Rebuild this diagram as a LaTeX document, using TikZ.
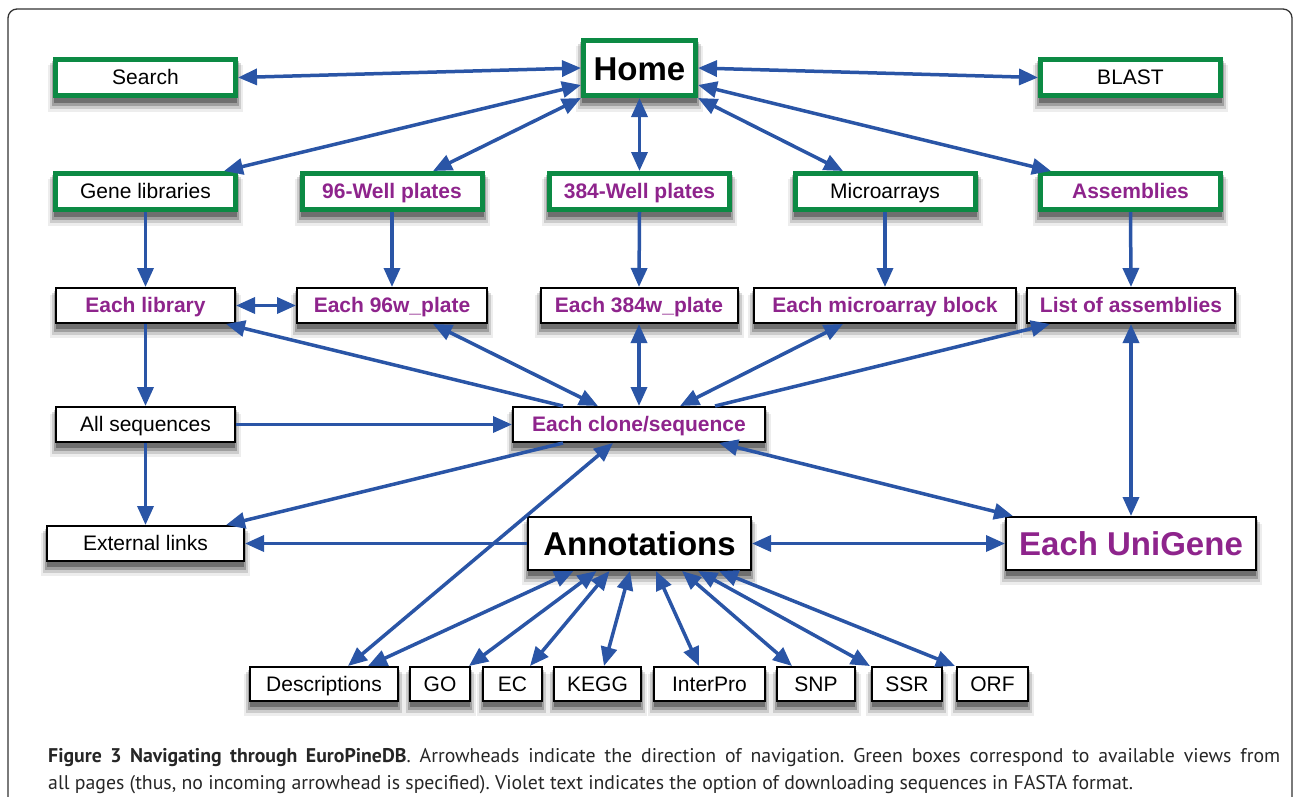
\documentclass[tikz,border=0pt]{standalone}
\usepackage{fontspec}
\setmainfont{Liberation Sans}
\newfontfamily\capfont{PT Sans}
\usetikzlibrary{arrows.meta,calc}
\definecolor{boxgreen}{RGB}{12,138,68}
\definecolor{fastaviolet}{RGB}{142,36,140}
\definecolor{arrowblue}{RGB}{42,85,166}
\frenchspacing
\pgfdeclarelayer{shadowlayer}
\pgfsetlayers{shadowlayer,main}
\tikzset{
  txt/.style={font=\fontsize{21}{25}\selectfont, text height=17pt, text depth=3pt},
  fasta/.style={font=\fontsize{21}{25}\selectfont\bfseries, text=fastaviolet, text height=17pt, text depth=3pt},
  big/.style={font=\fontsize{33}{38}\selectfont\bfseries, text height=27pt, text depth=3pt},
  gbox/.style={draw=boxgreen, line width=5pt, fill=white, minimum width=180pt, minimum height=36pt, inner sep=0pt},
  bbox/.style={draw=black, line width=2pt, fill=white, minimum height=35pt, inner sep=0pt},
  sbox/.style={bbox, minimum height=34pt},
  shadowfill/.style={fill=black, opacity=#1},
  link/.style={draw=arrowblue, line width=3.5pt, -{Triangle[length=19pt,width=16pt]}},
  both/.style={draw=arrowblue, line width=3.5pt, {Triangle[length=19pt,width=16pt]}-{Triangle[length=19pt,width=16pt]}}
}
\begin{document}
\begin{tikzpicture}[x=1pt,y=-1pt]
\useasboundingbox (0,0) rectangle (1293,796);
\draw[line width=1.3pt, black!80, rounded corners=9pt] (8,840) -- (8,9) -- (1292,9) -- (1292,840);

% green boxes
\node[gbox, txt] (search) at (145.5,77.5) {Search};
\node[gbox, big, minimum width=112pt, minimum height=55pt] (home) at (639.5,68) {Home};
\node[gbox, txt] (blast) at (1130.5,77.5) {BLAST};
\node[gbox, txt] (genelib) at (145.5,191.5) {Gene libraries};
\node[gbox, fasta] (w96) at (392,191.5) {96-Well plates};
\node[gbox, fasta] (w384) at (639.5,191.5) {384-Well plates};
\node[gbox, txt] (micro) at (885,191.5) {Microarrays};
\node[gbox, fasta] (assem) at (1130.5,191.5) {Assemblies};

% row 3
\node[bbox, fasta, minimum width=179pt] (lib) at (145.5,305.5) {Each library};
\node[bbox, fasta, minimum width=190pt] (e96) at (392,305.5) {Each 96w\_plate};
\node[bbox, fasta, minimum width=197pt] (e384) at (639,305.5) {Each 384w\_plate};
\node[bbox, fasta, minimum width=262pt] (block) at (885,305.5) {Each microarray block};
\node[bbox, fasta, minimum width=208pt] (list) at (1131,305.5) {List of assemblies};

% row 4
\node[bbox, txt, minimum width=179pt] (allseq) at (145.5,424.5) {All sequences};
\node[bbox, fasta, minimum width=252pt] (clone) at (639,424.5) {Each clone/sequence};

% row 5
\node[bbox, txt, minimum width=197pt] (ext) at (145.5,543.5) {External links};
\node[bbox, big, minimum width=223pt, minimum height=53pt] (annot) at (639.5,543.5) {Annotations};
\node[bbox, big, text=fastaviolet, minimum width=250pt, minimum height=53pt] (unigene) at (1131,543.5) {Each UniGene};

% bottom row
\node[sbox, txt, minimum width=148pt] (desc) at (324,684) {Descriptions};
\node[sbox, txt, minimum width=60pt] (go) at (440,684) {GO};
\node[sbox, txt, minimum width=59pt] (ec) at (512.5,684) {EC};
\node[sbox, txt, minimum width=87pt] (kegg) at (597.5,684) {KEGG};
\node[sbox, txt, minimum width=111pt] (interpro) at (709.5,684) {InterPro};
\node[sbox, txt, minimum width=78pt] (snp) at (816,684) {SNP};
\node[sbox, txt, minimum width=70pt] (ssr) at (907,684) {SSR};
\node[sbox, txt, minimum width=71pt] (orf) at (992.5,684) {ORF};

% soft shadows below every box
\begin{pgfonlayer}{shadowlayer}
\foreach \n in {search,home,blast,genelib,w96,w384,micro,assem,lib,e96,e384,block,list,allseq,clone,ext,annot,unigene,desc,go,ec,kegg,interpro,snp,ssr,orf}{
  \fill[shadowfill=0.07] ($(\n.south west)+(-5,14)$) rectangle ($(\n.north east)+(5,8)$);
  \fill[shadowfill=0.14] ($(\n.south west)+(-3,11)$) rectangle ($(\n.north east)+(3,6)$);
  \fill[shadowfill=0.22] ($(\n.south west)+(-1,8)$) rectangle ($(\n.north east)+(1,4)$);
  \fill[shadowfill=0.30] ($(\n.south west)+(1,5)$) rectangle ($(\n.north east)+(-1,3)$);
}
\end{pgfonlayer}

% connectors from Home
\draw[both] (search.east) -- (home.west);
\draw[both] (home.east) -- (blast.west);
\draw[both] ($(home.west)+(0,17)$) -- ($(genelib.north east)+(-14,0)$);
\draw[both] (home.south west) -- ($(w96.north)+(41,0)$);
\draw[both] (home.south) -- (w384.north);
\draw[both] (home.south east) -- ($(micro.north)+(-42,0)$);
\draw[both] ($(home.east)+(0,17)$) -- ($(assem.north west)+(13,0)$);

% green to row 3
\draw[link] (genelib.south) -- (lib.north);
\draw[link] (w96.south) -- (e96.north);
\draw[link] (w384.south) -- (e384.north);
\draw[link] (micro.south) -- (block.north);
\draw[link] (assem.south) -- (list.north);

% row 3 and clone
\draw[both] (lib.east) -- (e96.west);
\draw[link] ($(clone.north west)+(51,0)$) -- ($(lib.south east)+(-10,0)$);
\draw[both] ($(e96.south)+(41,0)$) -- ($(clone.north)+(-41,0)$);
\draw[both] (e384.south) -- (clone.north);
\draw[both] ($(block.south)+(-42,0)$) -- ($(clone.north)+(41,0)$);
\draw[link] ($(clone.north)+(76,0)$) -- ($(list.south west)+(24,0)$);
\draw[both] (list.south) -- (unigene.north);

% left column
\draw[link] (lib.south) -- (allseq.north);
\draw[link] (allseq.south) -- (ext.north);
\draw[link] (allseq.east) -- (clone.west);
\draw[link] ($(clone.south west)+(51,0)$) -- ($(ext.north east)+(-19,0)$);
\draw[link] (annot.west) -- (ext.east);
\draw[both] ($(clone.south east)+(-47,0)$) -- ($(unigene.north west)+(8,0)$);
\draw[both] (annot.east) -- (unigene.west);

% annotations fan
\draw[both] ($(desc.north)+(24,0)$) -- ($(clone.south)+(-26,0)$);
\draw[both] ($(desc.north)+(44,0)$) -- ($(annot.south)+(-66,0)$);
\draw[both] ($(go.north)+(29,0)$) -- ($(annot.south)+(-43,0)$);
\draw[both] ($(ec.north)+(17.5,0)$) -- ($(annot.south)+(-30,0)$);
\draw[both] ($(kegg.north)+(6.5,0)$) -- ($(annot.south)+(-9.5,0)$);
\draw[both] ($(interpro.north)+(-10.5,0)$) -- ($(annot.south)+(16.5,0)$);
\draw[both] ($(snp.north)+(-24,0)$) -- ($(annot.south)+(42.5,0)$);
\draw[both] ($(ssr.north)+(-37,0)$) -- ($(annot.south)+(58.5,0)$);
\draw[both] ($(orf.north)+(-37.5,0)$) -- ($(annot.south)+(79.5,0)$);

% caption
\node[anchor=base west, inner sep=0pt, font=\capfont\fontsize{19.8}{24}\selectfont, text=black!85] (cap1) at (48,762)
  {\makebox[1232pt][s]{\textbf{Figure 3 Navigating through EuroPineDB}. Arrowheads indicate the direction of navigation. Green boxes correspond to available views from}};
\node[anchor=base west, inner sep=0pt, font=\capfont\fontsize{19.8}{24}\selectfont, text=black!85] (cap2) at (48,789)
  {all pages (thus, no incoming arrowhead is specified). Violet text indicates the option of downloading sequences in FASTA format.};
\end{tikzpicture}
\end{document}
